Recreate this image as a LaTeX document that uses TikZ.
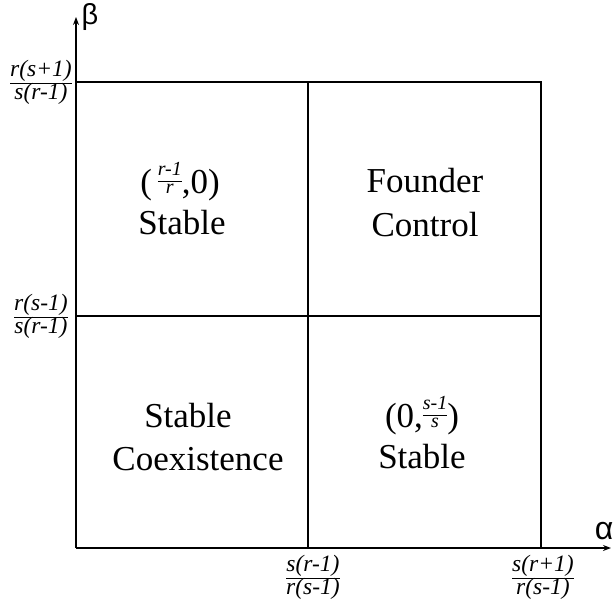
\documentclass[tikz,border=0pt]{standalone}
\usepackage{amsmath}
\usepackage{fontspec}
\setmainfont{Liberation Serif}
\newfontfamily\greekfont{Liberation Sans}
\usetikzlibrary{arrows.meta}
% stacked italic fraction: size, numerator, denominator
\newcommand{\itfrac}[3]{{\fontsize{#1}{#1}\selectfont
  \renewcommand\arraystretch{0.9}%
  \begin{tabular}{@{}c@{}}\textit{#2}\\\hline\textit{#3}\end{tabular}}}
\begin{document}
\begin{tikzpicture}[x=1pt,y=-1pt,every node/.style={font=\fontsize{35}{43}\selectfont},
  axis/.style={line width=1.8pt,-{Stealth[length=8pt,width=6pt]}},
  grid line/.style={line width=1.8pt},
  tick label/.style={inner sep=0pt},
  axis label/.style={font=\greekfont\fontsize{29}{30}\selectfont,inner sep=0pt},
  region/.style={anchor=base,inner sep=0pt}]
\useasboundingbox (0,0) rectangle (616,605);
% axes and grid
\coordinate (O) at (76,548);
\coordinate (xend) at (611,548);
\coordinate (yend) at (76,17);
\coordinate (tl) at (76,82);
\coordinate (tm) at (308,82);
\coordinate (tr) at (541,82);
\coordinate (ml) at (76,316);
\coordinate (mr) at (541,316);
\coordinate (bm) at (308,548);
\coordinate (br) at (541,548);
\draw[axis] (O)--(xend);
\draw[axis] (O)--(yend);
\draw[grid line] (tl)--(tr)--(br);
\draw[grid line] (tm)--(bm);
\draw[grid line] (ml)--(mr);
\node[axis label] (beta) at (90,17) {β};
\node[axis label,font=\greekfont\fontsize{32}{32}\selectfont] (alpha) at (604,531) {α};
% tick labels
\node[tick label] (ytop) at (41,83) {\itfrac{23.5}{r(s+1)}{s(r-1)}};
\node[tick label] (ymid) at (41,317) {\itfrac{23.5}{r(s-1)}{s(r-1)}};
\node[tick label] (xmid) at (313,578) {\itfrac{23.5}{s(r-1)}{r(s-1)}};
\node[tick label] (xtop) at (543,578) {\itfrac{23.5}{s(r+1)}{r(s-1)}};
% regions
\node[region] (ul1) at (180,193) {(\,\raisebox{7pt}{\itfrac{20}{r-1}{r}},0)};
\node[region] (ul2) at (182,234) {Stable};
\node[region] (ur1) at (425,192) {Founder};
\node[region] (ur2) at (425,236) {Control};
\node[region] (ll1) at (188,427) {Stable};
\node[region] (ll2) at (198,470) {Coexistence};
\node[region] (lr1) at (422,427) {(0,\raisebox{7pt}{\itfrac{20}{s-1}{s}})};
\node[region] (lr2) at (422,468) {Stable};
\end{tikzpicture}
\end{document}
